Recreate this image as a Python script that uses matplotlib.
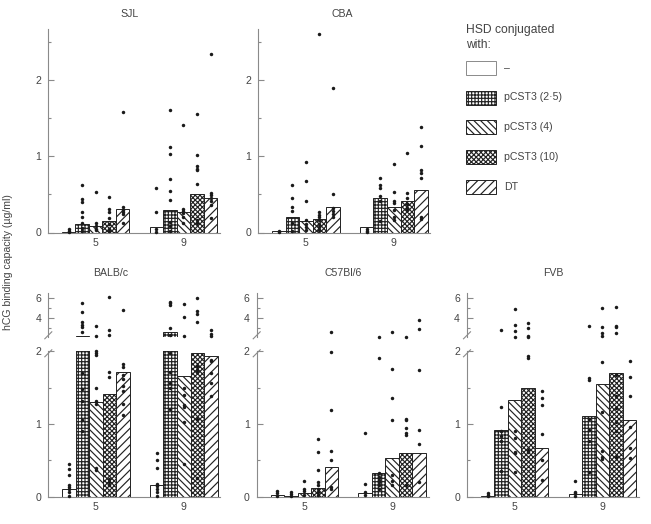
import matplotlib
matplotlib.use('Agg')
import matplotlib.pyplot as plt
from matplotlib.patches import Rectangle
from matplotlib.lines import Line2D

plt.rcParams['font.family'] = ['Liberation Sans', 'DejaVu Sans']
plt.rcParams['hatch.linewidth'] = 0.85
plt.rcParams['hatch.color'] = '#222222'

# ---------------- data ----------------
groups = ['5', '9']
series = ['–', 'pCST3 (2·5)', 'pCST3 (4)', 'pCST3 (10)', 'DT']
hatches = ['', '+++++', '\\\\\\\\\\', 'xxxxxxx', '////']

# bar heights: one [week5, week9] pair per series
sjl_bars = [[0.01, 0.07], [0.11, 0.30], [0.09, 0.27], [0.15, 0.50], [0.31, 0.45]]
sjl_pts = [
    [[0.05, 0.02, 0.01], [0.58, 0.27, 0.04, 0.01]],
    [[0.62, 0.44, 0.40, 0.27, 0.21, 0.13, 0.06, 0.02], [1.61, 1.13, 1.03, 0.70, 0.55, 0.43, 0.14, 0.08, 0.02]],
    [[0.53, 0.12, 0.08, 0.05, 0.03], [1.41, 0.31, 0.28, 0.25, 0.21, 0.12]],
    [[0.46, 0.31, 0.27, 0.19, 0.11, 0.05, 0.02], [1.56, 1.02, 0.87, 0.84, 0.82, 0.64, 0.17, 0.13]],
    [[1.58, 0.34, 0.30, 0.27, 0.24, 0.13], [2.34, 0.52, 0.49, 0.45, 0.41, 0.36, 0.19]],
]

cba_bars = [[0.02, 0.07], [0.21, 0.45], [0.15, 0.33], [0.18, 0.42], [0.33, 0.56]]
cba_pts = [
    [[0.02, 0.01], [0.05, 0.02, 0.01]],
    [[0.62, 0.45, 0.34, 0.28, 0.13, 0.02], [0.72, 0.62, 0.59, 0.48, 0.41, 0.15]],
    [[0.92, 0.68, 0.41, 0.16, 0.11, 0.07, 0.03], [0.90, 0.53, 0.41, 0.39, 0.29, 0.21, 0.16]],
    [[2.61, 0.27, 0.23, 0.20, 0.16, 0.11, 0.07, 0.03], [1.04, 0.52, 0.45, 0.37, 0.32, 0.29]],
    [[1.90, 0.51, 0.32, 0.28, 0.24, 0.20], [1.39, 1.14, 0.82, 0.78, 0.72, 0.20, 0.18]],
]

balb_bars = [[0.11, 0.16], [2.2, 2.6], [1.30, 1.66], [1.41, 1.97], [1.71, 1.94]]
balb_pts = [
    [[0.45, 0.38, 0.30, 0.16, 0.13, 0.10, 0.06, 0.01], [0.60, 0.50, 0.39, 0.18, 0.15, 0.11, 0.07, 0.01]],
    [[5.5, 4.6, 3.6, 3.3, 3.1, 2.6, 1.70, 1.48, 1.31, 1.05, 0.90], [5.6, 5.5, 5.3, 3.0, 2.35, 1.97, 1.71, 1.56, 1.50, 1.20]],
    [[3.2, 2.25, 2.0, 1.97, 1.95, 1.49, 1.32, 1.27, 0.39, 0.37], [5.4, 4.15, 2.2, 1.50, 1.40, 1.26, 1.24, 1.03, 0.45]],
    [[6.1, 2.8, 2.3, 1.71, 1.64, 0.24, 0.20, 0.16], [6.07, 4.7, 4.45, 3.6, 1.80, 1.74, 1.71, 1.07, 0.26]],
    [[4.8, 1.83, 1.78, 1.68, 1.62, 1.52, 1.46, 1.28, 1.12], [2.8, 2.45, 2.2, 1.88, 1.86, 1.70, 1.57, 1.38]],
]

c57_bars = [[0.02, 0.05], [0.015, 0.33], [0.05, 0.53], [0.12, 0.60], [0.41, 0.60]]
c57_pts = [
    [[0.08, 0.05, 0.01], [0.88, 0.18, 0.07, 0.02]],
    [[0.07, 0.04, 0.01], [2.17, 1.91, 0.33, 0.27, 0.23, 0.20, 0.16, 0.11]],
    [[0.22, 0.11, 0.08, 0.03], [2.67, 1.75, 1.36, 1.05, 0.30, 0.21, 0.16]],
    [[0.79, 0.61, 0.37, 0.20, 0.16, 0.11, 0.07, 0.03], [2.17, 1.07, 1.05, 0.95, 0.87, 0.85, 0.16]],
    [[2.65, 1.99, 1.19, 0.63, 0.50, 0.14, 0.11], [3.83, 2.93, 1.74, 0.92, 0.72, 0.20]],
]

fvb_bars = [[0.015, 0.04], [0.92, 1.11], [1.33, 1.55], [1.49, 1.70], [0.67, 1.05]]
fvb_pts = [
    [[0.05, 0.02, 0.01], [0.21, 0.07, 0.05, 0.01]],
    [[2.83, 1.23, 0.91, 0.83, 0.76, 0.36], [3.23, 1.63, 1.61, 1.07, 0.92, 0.77, 0.34]],
    [[4.9, 3.3, 2.7, 2.17, 0.91, 0.81, 0.62, 0.60, 0.34], [5.0, 3.17, 2.5, 2.27, 1.85, 1.17, 0.63, 0.54, 0.52]],
    [[3.57, 3.05, 2.25, 2.15, 1.94, 1.91, 0.64, 0.62], [5.1, 3.27, 3.1, 2.57, 1.68, 1.38, 1.22, 1.03, 0.91, 0.55]],
    [[1.46, 1.36, 1.26, 0.86, 0.50, 0.23], [1.87, 1.64, 1.39, 0.96, 0.67, 0.53]],
]

# ---------------- style ----------------
FW, FH = 651, 524
fig = plt.figure(figsize=(FW / 100, FH / 100), dpi=100)
AX_C = '#8a8a8a'
TXT_C = '#444444'
EDGE_C = '#222222'
DOT_C = '#1a1a1a'
FS = 7.6
W = 0.154
XL = (-0.543, 1.416)


def add_px_axes(left, top, width, height):
    return fig.add_axes([left / FW, 1 - (top + height) / FH, width / FW, height / FH])


def style(ax, bottom=True):
    for s in ['top', 'right']:
        ax.spines[s].set_visible(False)
    ax.spines['left'].set_color(AX_C)
    ax.spines['left'].set_linewidth(0.8)
    if bottom:
        ax.spines['bottom'].set_color(AX_C)
        ax.spines['bottom'].set_linewidth(0.8)
    else:
        ax.spines['bottom'].set_visible(False)
    ax.set_facecolor('none')
    ax.tick_params(axis='y', which='major', direction='in', length=4, width=0.8,
                   color=AX_C, labelsize=FS, labelcolor=TXT_C, pad=5)
    ax.tick_params(axis='y', which='minor', direction='in', length=2.5, width=0.8, color=AX_C)
    ax.tick_params(axis='x', length=0, labelsize=FS, labelcolor=TXT_C, pad=4)
    ax.set_xlim(*XL)


def draw_bars(ax, bars):
    for si in range(len(series)):
        xs = [gi + (si - 2) * W for gi in range(len(groups))]
        ax.bar(xs, bars[si], width=W, facecolor='white', edgecolor=EDGE_C,
               linewidth=0.7, hatch=hatches[si], zorder=2)


def draw_pts(ax, pts, lo=None, hi=None):
    for si in range(len(series)):
        for gi in range(len(groups)):
            vals = [v for v in pts[si][gi]
                    if (lo is None or v > lo) and (hi is None or v <= hi)]
            ax.plot([gi + (si - 2) * W] * len(vals), vals, 'o', ms=2.5,
                    color=DOT_C, mec='none', zorder=5, clip_on=False)


def title_px(text, x, y):
    fig.text(x / FW, 1 - y / FH, text, ha='center', va='center', fontsize=FS, color=TXT_C)


# ---------------- top row ----------------
top_panels = [('SJL', 48.0, 130, sjl_bars, sjl_pts), ('CBA', 258.3, 342, cba_bars, cba_pts)]
for name, left, tx, bars, pts in top_panels:
    ax = add_px_axes(left, 29.3, 172, 203.2)
    style(ax)
    draw_bars(ax, bars)
    draw_pts(ax, pts)
    ax.set_ylim(0, 2.67)
    ax.set_yticks([0, 1, 2])
    ax.set_yticks([0.5, 1.5, 2.5], minor=True)
    ax.set_yticklabels(['0', '1', '2'])
    ax.set_xticks(range(len(groups)))
    ax.set_xticklabels(groups)
    title_px(name, tx, 14)

# ---------------- bottom row (broken axis) ----------------
bot_panels = [('BALB/c', 48.3, 111, balb_bars, balb_pts),
              ('C57Bl/6', 256.7, 343, c57_bars, c57_pts),
              ('FVB', 467.0, 553, fvb_bars, fvb_pts)]
UP_TOP, UP_H = 293.3, 44.0
LO_TOP, LO_H = 351.3, 145.4
for name, left, tx, bars, pts in bot_panels:
    axu = add_px_axes(left, UP_TOP, 172, UP_H)
    style(axu, bottom=False)
    draw_bars(axu, bars)
    draw_pts(axu, pts, lo=2.03)
    axu.set_ylim(2.1, 6.5)
    axu.set_yticks([4, 6])
    axu.set_yticks([3, 5], minor=True)
    axu.set_yticklabels(['4', '6'])
    axu.set_xticks([])

    axl = add_px_axes(left, LO_TOP, 172, LO_H)
    style(axl)
    draw_bars(axl, bars)
    draw_pts(axl, pts, hi=2.03)
    axl.set_ylim(0, 2.0)
    axl.set_yticks([0, 1, 2])
    axl.set_yticks([0.5, 1.5], minor=True)
    axl.set_yticklabels(['0', '1', '2'])
    axl.set_xticks(range(len(groups)))
    axl.set_xticklabels(groups)

    # break marks
    for yc in (UP_TOP + UP_H - 2, LO_TOP + 2):
        fig.add_artist(Line2D([(left - 3.5) / FW, (left + 3.5) / FW],
                              [1 - (yc + 3.5) / FH, 1 - (yc - 3.5) / FH],
                              transform=fig.transFigure, color=AX_C, lw=0.8))
    title_px(name, tx, 273)

# y label
fig.text(8 / FW, 1 - 262 / FH, 'hCG binding capacity (µg/ml)', rotation=90,
         ha='center', va='center', fontsize=FS, color=TXT_C)

# ---------------- legend ----------------
fig.text(466 / FW, 1 - 30 / FH, 'HSD conjugated', ha='left', va='center', fontsize=8.7, color=TXT_C)
fig.text(466 / FW, 1 - 45 / FH, 'with:', ha='left', va='center', fontsize=8.7, color=TXT_C)
leg_y = [68, 97.5, 127, 157, 186.5]
for si, lab in enumerate(series):
    yc = leg_y[si]
    fig.add_artist(Rectangle((466 / FW, 1 - (yc + 7) / FH), 30 / FW, 14 / FH,
                             transform=fig.transFigure, facecolor='white',
                             edgecolor=(AX_C if si == 0 else EDGE_C), linewidth=0.7,
                             hatch=hatches[si]))
    fig.text(504 / FW, 1 - yc / FH, lab, ha='left', va='center', fontsize=FS, color=TXT_C)

fig.savefig('out.png', dpi=100, facecolor='white')
